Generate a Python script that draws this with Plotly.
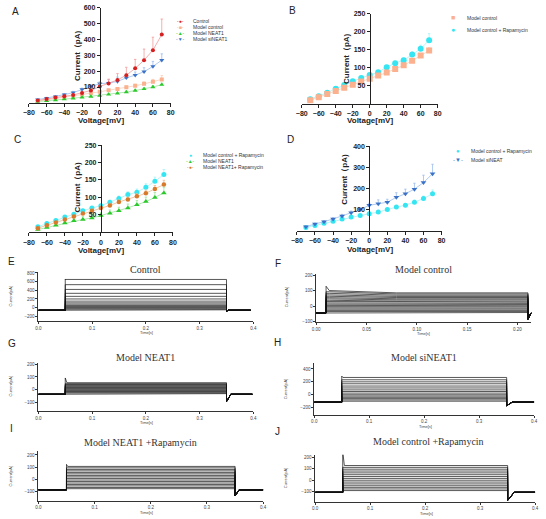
import plotly.graph_objects as go

W, H = 546, 519

# ---------------- I-V data (panels A-D) ----------------
volts = [-70, -60, -50, -40, -30, -20, -10, 0, 10, 20, 30, 40, 50, 60, 70]

a_control = [15, 25, 33, 42, 50, 63, 78, 103, 122, 145, 175, 218, 270, 333, 432]
a_control_err = [5, 5, 5, 6, 8, 10, 12, 17, 28, 40, 50, 57, 70, 82, 98]
a_model = [10, 18, 27, 35, 44, 52, 62, 70, 80, 88, 98, 108, 120, 133, 148]
a_model_err = [3, 3, 3, 4, 4, 5, 5, 6, 7, 8, 9, 10, 12, 15, 25]
a_neat1 = [8, 12, 17, 23, 29, 35, 40, 46, 53, 60, 68, 78, 88, 100, 115]
a_neat1_err = [2, 2, 3, 3, 3, 4, 4, 5, 5, 6, 6, 7, 8, 9, 10]
a_si = [20, 30, 40, 52, 65, 85, 104, 121, 125, 135, 158, 175, 197, 230, 270]
a_si_err = [4, 5, 6, 7, 8, 8, 10, 12, 22, 28, 22, 20, 25, 32, 40]

b_model = [10, 18, 27, 36, 45, 53, 62, 70, 79, 87, 97, 107, 120, 134, 148]
b_model_err = [2, 2, 2, 2, 3, 3, 3, 3, 4, 4, 4, 5, 5, 6, 8]
b_rapa = [13, 21, 31, 42, 52, 63, 72, 80, 88, 102, 113, 121, 137, 153, 177]
b_rapa_err = [2, 2, 3, 3, 3, 3, 4, 4, 4, 5, 5, 6, 7, 10, 18]

c_rapa = [16, 25, 34, 44, 52, 62, 70, 76, 86, 97, 108, 115, 129, 146, 166]
c_rapa_err = [2, 2, 3, 3, 3, 4, 4, 5, 6, 7, 8, 9, 10, 12, 14]
c_neat1 = [8, 14, 20, 27, 33, 37, 41, 48, 55, 62, 70, 79, 88, 100, 113]
c_neat1_err = [2, 3, 4, 5, 6, 8, 10, 8, 9, 10, 11, 12, 13, 14, 16]
c_neat1_rapa = [12, 20, 28, 37, 45, 54, 62, 70, 77, 87, 94, 103, 112, 124, 137]
c_neat1_rapa_err = [2, 2, 3, 3, 4, 4, 5, 5, 6, 6, 7, 8, 9, 10, 12]

d_rapa = [15, 25, 35, 45, 55, 65, 72, 80, 88, 100, 112, 120, 135, 152, 175]
d_rapa_err = [2, 2, 3, 3, 3, 4, 4, 5, 5, 6, 7, 8, 10, 12, 18]
d_si = [18, 32, 42, 55, 70, 85, 100, 120, 128, 135, 158, 175, 197, 228, 270]
d_si_err = [3, 4, 5, 6, 7, 8, 8, 10, 18, 14, 22, 22, 28, 35, 45]

iv_xticks = [-80, -60, -40, -20, 0, 20, 40, 60, 80]
a_yticks = [100, 200, 300, 400, 500, 600]
b_yticks = [50, 100, 150, 200, 250]
c_yticks = [50, 100, 150, 200, 250]
d_yticks = [100, 200, 300, 400]

# ---------------- current traces (panels E-J) ----------------
# times: start, step on, transient end, plateau start, step off, tail recovery, end  (s)
e_times = [0.0, 0.05, 0.05, 0.05, 0.35, 0.353, 0.395]
e_base, e_peak, e_tail = -60, 660, -85
e_levels = [650, 530, 420, 330, 260, 200, 150, 110, 80, 50, 25, 5, -15, -35, -50]

f_times = [0.0, 0.0098, 0.013, 0.08, 0.2105, 0.2135, 0.2165]
f_base, f_peak, f_tail = -45, 128, -85
f_levels = [85, 78, 70, 62, 55, 47, 40, 32, 25, 17, 10, 2, -5, -13, -20, -28, -35, -42]
f_onset = [100, 92, 82, 72, 63, 54, 46, 37, 29, 20, 12, 4, -4, -12, -20, -28, -35, -42]

g_times = [0.0, 0.05, 0.053, 0.053, 0.35, 0.358, 0.398]
g_base, g_peak, g_tail = -35, 92, -92
g_levels = [55, 48, 41, 35, 29, 23, 17, 11, 5, -1, -7, -13, -19, -25, -30]

h_times = [0.0, 0.05, 0.052, 0.052, 0.35, 0.36, 0.4]
h_base, h_peak, h_tail = -115, 290, -170
h_levels = [268, 232, 200, 170, 135, 105, 75, 50, 25, 0, -20, -40, -60, -80, -100]

i_times = [0.0, 0.05, 0.052, 0.052, 0.35, 0.357, 0.4]
i_base, i_peak, i_tail = -90, 122, -140
i_levels = [105, 93, 80, 68, 55, 43, 30, 18, 5, -8, -20, -33, -45, -57, -70, -80]

j_times = [0.0, 0.05, 0.053, 0.053, 0.35, 0.362, 0.4]
j_base, j_peak, j_tail = -105, 250, -175
j_levels = [128, 112, 96, 80, 64, 48, 32, 16, 0, -16, -32, -48, -62, -76, -90]

trace_titles = ["Control", "Model control", "Model NEAT1", "Model siNEAT1",
                "Model NEAT1 +Rapamycin", "Model control +Rapamycin"]

# ---------------- helpers ----------------
def X(p):
    return p / W


def Y(p):
    return 1 - p / H


def sfx(n):
    return "" if n == 1 else str(n)


fig = go.Figure()
annotations = []

FONT = "Liberation Sans, Arial, sans-serif"
SERIF = "Liberation Serif, Times New Roman, serif"


def ann(text, x, y, size, xanchor="center", yanchor="middle", angle=0, color="#222", family=FONT):
    annotations.append(dict(text=text, x=X(x), y=Y(y), xref="paper", yref="paper",
                            showarrow=False, xanchor=xanchor, yanchor=yanchor,
                            textangle=angle, font=dict(size=size, color=color, family=family)))


def add_iv(n, y, err, color, lcolor, symbol, size):
    fig.add_trace(go.Scatter(
        x=volts, y=y, mode="lines+markers", xaxis="x" + sfx(n), yaxis="y" + sfx(n),
        line=dict(color=lcolor, width=0.8),
        marker=dict(color=color, symbol=symbol, size=size, line=dict(width=0)),
        error_y=dict(type="data", array=err, arrayminus=[0] * len(err), symmetric=False,
                     color=lcolor, thickness=0.8, width=1.2),
        showlegend=False, hoverinfo="skip"))


def iv_axes(n, x0, x1, ytop, ybot, yrange, yticks):
    d0, d1 = X(x0), X(x1)
    fig.layout["xaxis" + sfx(n)] = dict(
        domain=[d0, d1], range=[-80, 80], anchor="y" + sfx(n),
        showline=True, linecolor="#222", linewidth=1, ticks="outside", ticklen=3,
        tickwidth=1, tickcolor="#222", tickvals=iv_xticks, showgrid=False, zeroline=False,
        tickfont=dict(size=7, color="#222", family=FONT, weight="bold"))
    fig.layout["yaxis" + sfx(n)] = dict(
        domain=[Y(ybot), Y(ytop)], range=yrange, anchor="free", position=(d0 + d1) / 2,
        showline=True, linecolor="#222", linewidth=1, ticks="outside", ticklen=3,
        tickwidth=1, tickcolor="#222", tickvals=yticks, showgrid=False, zeroline=False,
        tickfont=dict(size=7, color="#222", family=FONT, weight="bold"))


def add_sweeps(n, times, base, levels, peak, tail, onset=None):
    t0, ton, tset, tpl, toff, trec, tend = times
    xs, ys = [], []
    for k, lev in enumerate(levels):
        ons = onset[k] if onset is not None else lev
        pk = peak if k == 0 else ons
        xs += [t0, ton, ton, tset, tpl, toff, toff, trec, tend, None]
        ys += [base, base, pk, ons, lev, lev, tail, base, base, None]
    fig.add_trace(go.Scatter(x=xs, y=ys, mode="lines", xaxis="x" + sfx(n), yaxis="y" + sfx(n),
                             line=dict(color="#111", width=0.7), showlegend=False,
                             hoverinfo="skip"))


def trace_axes(n, x0, x1, ytop, ybot, xrange, yrange, xticks, yticks, xfmt):
    common = dict(showline=True, linecolor="#333", linewidth=0.8, ticks="outside", ticklen=2,
                  tickwidth=0.6, tickcolor="#333", showgrid=False, zeroline=False,
                  tickfont=dict(size=4.5, color="#444", family=FONT))
    fig.layout["xaxis" + sfx(n)] = dict(domain=[X(x0), X(x1)], range=xrange, anchor="y" + sfx(n),
                                        tickvals=xticks, tickformat=xfmt, **common)
    fig.layout["yaxis" + sfx(n)] = dict(domain=[Y(ybot), Y(ytop)], range=yrange, anchor="x" + sfx(n),
                                        tickvals=yticks, **common)


# ---------------- colours ----------------
RED, RED_L = "#d42020", "#f29a9a"
SAL, SAL_L = "#fbb08e", "#fdd0b8"
GRN, GRN_L = "#2bc92b", "#9be59b"
BLU, BLU_L = "#3b72c8", "#9cbcec"
CYN, CYN_L = "#35e6f2", "#a6f2f8"
ORG, ORG_L = "#d77a2c", "#ecb98e"

# ---------------- Panel A ----------------
iv_axes(1, 23.3, 167.7, 4, 100, [0, 600], a_yticks)
add_iv(1, a_model, a_model_err, SAL, SAL_L, "square", 4)
add_iv(1, a_neat1, a_neat1_err, GRN, GRN_L, "triangle-up", 4.5)
add_iv(1, a_si, a_si_err, BLU, BLU_L, "triangle-down", 4.5)
add_iv(1, a_control, a_control_err, RED, RED_L, "circle", 4)

# ---------------- Panel B ----------------
iv_axes(2, 301.3, 439.7, 10, 101, [0, 250], b_yticks)
add_iv(2, b_rapa, b_rapa_err, CYN, CYN_L, "circle", 6)
add_iv(2, b_model, b_model_err, SAL, SAL_L, "square", 6)

# ---------------- Panel C ----------------
iv_axes(3, 23.3, 170, 142.7, 231, [0, 250], c_yticks)
add_iv(3, c_rapa, c_rapa_err, CYN, CYN_L, "circle", 5)
add_iv(3, c_neat1, c_neat1_err, GRN, GRN_L, "triangle-up", 5)
add_iv(3, c_neat1_rapa, c_neat1_rapa_err, ORG, ORG_L, "circle", 4.5)

# ---------------- Panel D ----------------
iv_axes(4, 296.3, 443.7, 144, 229.3, [0, 400], d_yticks)
add_iv(4, d_rapa, d_rapa_err, CYN, CYN_L, "circle", 5)
add_iv(4, d_si, d_si_err, BLU, BLU_L, "triangle-down", 5)

# IV axis titles
for (cx, cy, vx, vy) in [(73, 52, 97, 118), (347, 55, 371, 118), (73, 185, 97, 249.5), (345, 177, 371, 248.5)]:
    ann("<b>Current（pA)</b>", cx, cy, 8, angle=-90)
    ann("<b>Voltage[mV]</b>", vx, vy, 8)

# IV legends: (symbol, colour, label)
def legend(entries, xs, xt, ys, size, ssize):
    for (sym, col, lab), yy in zip(entries, ys):
        ann(sym, xs, yy, ssize, color=col)
        ann(lab, xt, yy, size, xanchor="left", color="#333")


legend([("-●-", RED, "Control"), ("-■-", SAL, "Model control"),
        ("-▲-", GRN, "Model NEAT1"), ("-▼-", BLU, "Model siNEAT1")],
       178, 188, [17.3, 23.3, 29.3, 35], 5, 5)
legend([("■", SAL, "Model control"), ("●", CYN, "Model control + Rapamycin")],
       455.7, 467.3, [14, 26], 5, 7)
legend([("●", CYN, "Model control + Rapamycin"), ("-▲-", GRN, "Model NEAT1"),
        ("-●-", ORG, "Model NEAT1+ Rapamycin")],
       188, 199, [152.7, 159.3, 165], 5, 5)
legend([("●", CYN, "Model control + Rapamycin"), ("-▼-", BLU, "Model siNEAT")],
       460, 472, [148.3, 158.3], 5, 6)

# ---------------- Panels E-J ----------------
t4 = [0.0, 0.1, 0.2, 0.3, 0.4]
trace_axes(5, 33, 252, 271, 321, [0, 0.4], [-315, 825], t4, [-200, 0, 200, 400, 600, 800], ".1f")
add_sweeps(5, e_times, e_base, e_levels, e_peak, e_tail)

trace_axes(6, 316, 535, 273, 322, [0, 0.2137], [-105, 208], [0, 0.05, 0.10, 0.15, 0.20],
           [-100, 0, 100, 200], ".2f")
add_sweeps(6, f_times, f_base, f_levels, f_peak, f_tail, onset=f_onset)

trace_axes(7, 33, 252, 363, 412, [0, 0.4], [-167, 210], t4, [-100, 0, 100, 200], ".1f")
add_sweeps(7, g_times, g_base, g_levels, g_peak, g_tail)

trace_axes(8, 314, 538, 363, 416, [0, 0.4], [-317, 495], t4, [-200, 0, 200, 400], ".1f")
add_sweeps(8, h_times, h_base, h_levels, h_peak, h_tail)

trace_axes(9, 33, 262, 452, 503, [0, 0.4], [-184, 235], t4, [-100, 0, 100, 200], ".1f")
add_sweeps(9, i_times, i_base, i_levels, i_peak, i_tail)

trace_axes(10, 315, 539, 456, 504, [0, 0.4], [-191, 222], t4, [-100, 0, 100, 200], ".1f")
add_sweeps(10, j_times, j_base, j_levels, j_peak, j_tail)

# trace titles
for txt, (x, y) in zip(trace_titles, [(142, 269), (425, 269), (142, 358), (426, 358), (137, 444), (430, 443)]):
    ann(txt, x, y, 10, family=SERIF, color="#333")

# trace axis titles
for (cx, cy) in [(5, 296), (286, 297), (5, 387), (285, 390), (5, 478), (285, 480)]:
    ann("Current[pA]", cx, cy, 4, angle=-90, color="#444")
for (tx, ty) in [(143, 332), (425, 333), (143, 423), (427, 427.5), (143, 514), (428, 515)]:
    ann("Time[s]", tx, ty, 4, color="#444")

# panel letters
for lab, (x, y) in zip("ABCDEFGHIJ", [(10, 8), (292, 7), (12, 137), (290, 137), (6, 261),
                                      (277, 263), (6, 343), (277, 342), (6, 429), (277, 432)]):
    ann(lab, x, y, 10, color="#222")

fig.update_layout(width=W, height=H, margin=dict(l=0, r=0, t=0, b=0),
                  paper_bgcolor="white", plot_bgcolor="white",
                  font=dict(family=FONT), annotations=annotations, showlegend=False)

fig.write_html("out.html")
